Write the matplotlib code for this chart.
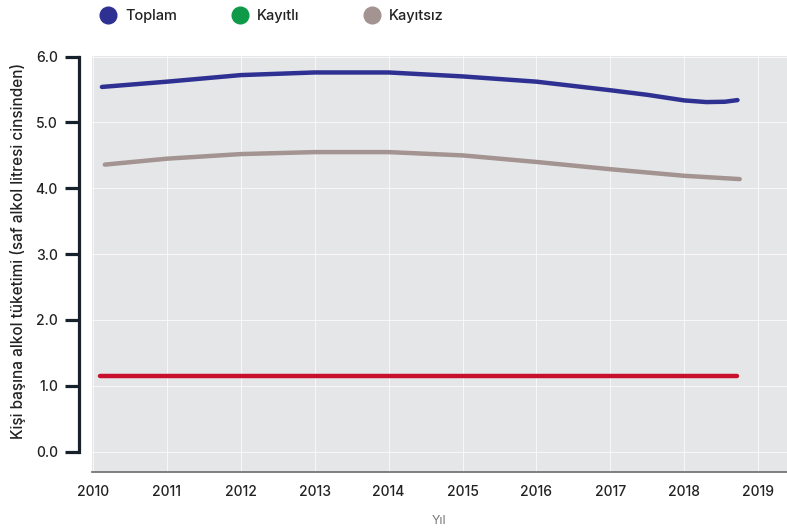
"""
Kişi başına alkol tüketimi grafiği (2010-2018)
"""
import matplotlib
matplotlib.use('Agg')
import matplotlib.pyplot as plt
from matplotlib.lines import Line2D
from matplotlib.ticker import FixedLocator

plt.rcParams['font.family'] = ['Inter', 'DejaVu Sans']

# Veriler
toplam_yil = [2010.12, 2011, 2012, 2013, 2014, 2015, 2016, 2017, 2017.5, 2018, 2018.3, 2018.55, 2018.72]
toplam = [5.54, 5.62, 5.72, 5.76, 5.76, 5.70, 5.62, 5.49, 5.42, 5.335, 5.31, 5.315, 5.34]

kayitsiz_yil = [2010.16, 2011, 2012, 2013, 2014, 2015, 2016, 2017, 2018, 2018.75]
kayitsiz = [4.36, 4.45, 4.52, 4.55, 4.55, 4.50, 4.40, 4.29, 4.19, 4.14]

kayitli_yil = [2010.1, 2011, 2012, 2013, 2014, 2015, 2016, 2017, 2018, 2018.72]
kayitli = [1.15, 1.15, 1.15, 1.15, 1.15, 1.15, 1.15, 1.15, 1.15, 1.15]

yillar = list(range(2010, 2020))
seri_adlari = ['Toplam', 'Kayıtlı', 'Kayıtsız']
lejant_renkleri = ['#2e3192', '#0e9a48', '#a39391']

fig = plt.figure(figsize=(7.87, 5.29), dpi=100)
ax = fig.add_axes([92 / 787, 1 - 472 / 529, 1 - 92 / 787, (472 - 56) / 529])
ax.set_facecolor('#e5e6e8')

# Çizgiler
ax.plot(toplam_yil, toplam, color='#2e3192', lw=3.2, solid_capstyle='round', zorder=3)
ax.plot(kayitsiz_yil, kayitsiz, color='#a39391', lw=3.2, solid_capstyle='round', zorder=3)
ax.plot(kayitli_yil, kayitli, color='#c8102e', lw=3.2, solid_capstyle='round', zorder=3)

ax.set_xlim(2009.986, 2019.39)
ax.set_ylim(-0.31, 6.01)

# Izgara
ax.set_xticks(yillar)
ax.set_xticklabels([str(y) for y in yillar])
ax.set_yticks([0, 1, 2, 3, 4, 5, 6])
ax.set_yticklabels(['0.0', '1.0', '2.0', '3.0', '4.0', '5.0', '6.0'])
ax.grid(True, color='white', lw=0.8, alpha=0.7)
ax.set_axisbelow(True)

# Eksen çizgileri
for s in ['top', 'right']:
    ax.spines[s].set_visible(False)
ax.spines['left'].set_position(('outward', 9.5))
ax.spines['left'].set_bounds(0, 6)
ax.spines['left'].set_color('#16212c')
ax.spines['left'].set_linewidth(2.3)
ax.spines['bottom'].set_color('#6b6b6b')
ax.spines['bottom'].set_linewidth(1.2)

ax.tick_params(axis='y', length=10, width=2.3, color='#16212c', pad=5,
               labelsize=10, labelcolor='#222222')
ax.tick_params(axis='x', which='major', length=0, pad=9,
               labelsize=10, labelcolor='#222222')
for t in ax.get_xticklabels() + ax.get_yticklabels():
    t.set_fontweight('medium')
ax.xaxis.set_minor_locator(FixedLocator([2010, 2012, 2014, 2016, 2018]))
ax.tick_params(axis='x', which='minor', length=3, width=1, color='#6b6b6b')

ax.set_ylabel('Kişi başına alkol tüketimi (saf alkol litresi cinsinden)',
              fontsize=11, color='#222222', fontweight='medium')
ax.yaxis.set_label_coords(-0.095, 0.531)
ax.set_xlabel('Yıl', fontsize=9, color='#777777', labelpad=12)

# Lejant
lejant_x = [99 / 787, 231 / 787, 363 / 787]
for ad, renk, x in zip(seri_adlari, lejant_renkleri, lejant_x):
    h = Line2D([], [], marker='o', ls='none', markersize=12,
               markerfacecolor=renk, markeredgecolor=renk)
    leg = fig.legend([h], [ad], loc='center left', bbox_to_anchor=(x, 1 - 16 / 529),
                     frameon=False, fontsize=10.5, handletextpad=0.5,
                     borderpad=0, borderaxespad=0, handlelength=1.3)
    for t in leg.get_texts():
        t.set_color('#222222')
        t.set_fontweight('medium')

plt.savefig('out.png', dpi=100)
